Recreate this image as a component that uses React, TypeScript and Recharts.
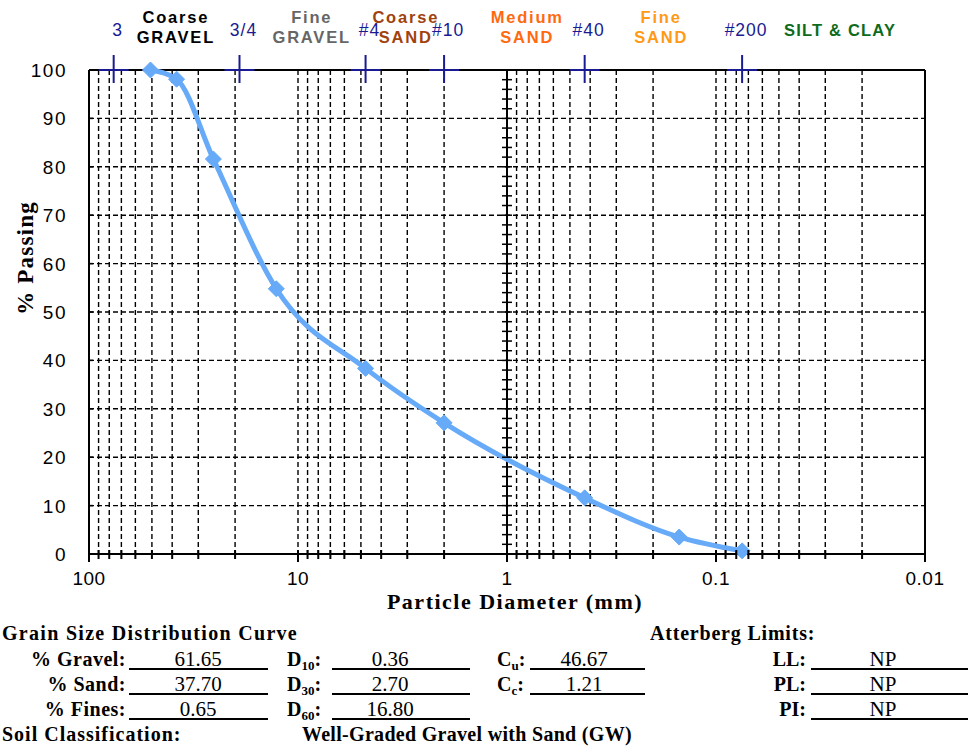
import React from 'react';
import { ComposedChart, Line, Scatter, XAxis, YAxis, CartesianGrid, ReferenceLine } from 'recharts';

// ---- data ----
const sieveSizes = [50.8, 38.1, 25.4, 12.7, 4.75, 2.0, 0.425, 0.15, 0.075];
const percentPassing = [100, 98.1, 81.6, 54.8, 38.35, 27.1, 11.6, 3.5, 0.65];

const sieveMarkSizes = [76.2, 19.05, 4.75, 2.0, 0.425, 0.075];
const sieveMarkLabels = ['3', '3/4', '#4', '#10', '#40', '#200'];

const zoneCenters = [38.4, 8.6, 3.05, 0.8, 0.183, 0.0255];
const zoneLine1 = ['Coarse', 'Fine', 'Coarse', 'Medium', 'Fine', ''];
const zoneLine2 = ['GRAVEL', 'GRAVEL', 'SAND', 'SAND', 'SAND', 'SILT & CLAY'];
const zoneColors = ['#000000', '#666666', '#A0420E', '#FF6A10', '#FF9A17', '#0E6B1C'];

const xTicks = [
  100, 90, 80, 70, 60, 50, 40, 30, 20,
  10, 9, 8, 7, 6, 5, 4, 3, 2,
  1, 0.9, 0.8, 0.7, 0.6, 0.5, 0.4, 0.3, 0.2,
  0.1, 0.09, 0.08, 0.07, 0.06, 0.05, 0.04, 0.03, 0.02,
  0.01,
];
const xMajorTicks = [100, 10, 1, 0.1, 0.01];
const xMajorLabels = ['100', '10', '1', '0.1', '0.01'];
const yTicks = [0, 10, 20, 30, 40, 50, 60, 70, 80, 90, 100];
const midAxisTicks = [
  0, 2, 4, 6, 8, 10, 12, 14, 16, 18, 20, 22, 24, 26, 28, 30, 32, 34, 36, 38, 40,
  42, 44, 46, 48, 50, 52, 54, 56, 58, 60, 62, 64, 66, 68, 70, 72, 74, 76, 78, 80,
  82, 84, 86, 88, 90, 92, 94, 96, 98, 100,
];

const curveData = sieveSizes.map((s, i) => ({ size: s, passing: percentPassing[i] }));
const sieveMarkData = sieveMarkSizes.map((s, i) => ({ size: s, passing: 100, label: sieveMarkLabels[i] }));
const zoneData = zoneCenters.map((s, i) => ({ size: s, passing: 100, l1: zoneLine1[i], l2: zoneLine2[i], color: zoneColors[i] }));
const midAxisData = midAxisTicks.map((v) => ({ size: 1, passing: v }));

const CURVE = '#66AAF8';
const NAVY = '#1A1A92';
const SANS = '"Liberation Sans", Arial, sans-serif';
const SERIF = '"Liberation Serif", "Times New Roman", serif';

const XTick = (props: any) => {
  const { x, y, payload } = props;
  const v = payload.value;
  const mi = xMajorTicks.indexOf(v);
  const major = mi >= 0;
  return (
    <g>
      <line x1={x} x2={x} y1={y - 4} y2={y + (major ? 8 : 5)} stroke="#000" strokeWidth={2} />
      {major && (
        <text x={x} y={y + 31} textAnchor="middle" fontFamily={SANS} fontSize={19} letterSpacing={0.5} fill="#000">
          {xMajorLabels[mi]}
        </text>
      )}
    </g>
  );
};

const YTick = (props: any) => {
  const { y, payload } = props;
  return (
    <g>
      <line x1={89} x2={93} y1={y} y2={y} stroke="#000" strokeWidth={1.5} />
      <text x={67} y={y + 7} textAnchor="end" fontFamily={SANS} fontSize={19} letterSpacing={1.5} fill="#000">
        {payload.value}
      </text>
    </g>
  );
};

const Diamond = (props: any) => {
  const { cx, cy } = props;
  if (cx == null || cy == null) return null;
  const r = 8;
  return <polygon points={`${cx},${cy - r} ${cx + r},${cy} ${cx},${cy + r} ${cx - r},${cy}`} fill={CURVE} stroke={CURVE} strokeWidth={1} />;
};

const SieveMark = (props: any) => {
  const { cx, cy, payload } = props;
  return (
    <g>
      <line x1={cx - 15} x2={cx + 15} y1={cy} y2={cy} stroke={NAVY} strokeWidth={2} />
      <line x1={cx} x2={cx} y1={cy - 15} y2={cy + 13} stroke={NAVY} strokeWidth={2} />
      <text x={cx + 4} y={cy - 34} textAnchor="middle" fontFamily={SANS} fontSize={17.5} letterSpacing={1} fill={NAVY}>
        {payload.label}
      </text>
    </g>
  );
};

const ZoneLabel = (props: any) => {
  const { cx, cy, payload } = props;
  if (!payload.l1) {
    return (
      <text x={cx} y={cy - 34} textAnchor="middle" fontFamily={SANS} fontWeight="bold" fontSize={16.5} letterSpacing={1.2} fill={payload.color}>
        {payload.l2}
      </text>
    );
  }
  return (
    <g>
      <text x={cx} y={cy - 47} textAnchor="middle" fontFamily={SANS} fontWeight="bold" fontSize={16.5} letterSpacing={1.8} fill={payload.color}>
        {payload.l1}
      </text>
      <text x={cx} y={cy - 27} textAnchor="middle" fontFamily={SANS} fontWeight="bold" fontSize={16.5} letterSpacing={1.8} fill={payload.color}>
        {payload.l2}
      </text>
    </g>
  );
};

const MidTick = (props: any) => {
  const { cx, cy } = props;
  return <line x1={cx - 5} x2={cx + 5} y1={cy} y2={cy} stroke="#000" strokeWidth={1.5} />;
};

// ---- HTML text helper ----
const T = ({ x, y, size = 20, bold = true, anchor = 'start', spacing = 0, children, color = '#000', family = SERIF }: any) => {
  const tx = anchor === 'middle' ? '-50%' : anchor === 'end' ? '-100%' : '0';
  return (
    <div
      style={{
        position: 'absolute',
        left: x,
        top: y - size / 2,
        lineHeight: `${size}px`,
        fontSize: size,
        fontFamily: family,
        fontWeight: bold ? 'bold' : 'normal',
        letterSpacing: spacing,
        color,
        whiteSpace: 'nowrap',
        transform: `translateX(${tx})`,
      }}
    >
      {children}
    </div>
  );
};

const U = ({ x1, x2, y }: any) => (
  <div style={{ position: 'absolute', left: x1, top: y - 1, width: x2 - x1, height: 0, borderTop: '2px solid #000' }} />
);

const Sub = ({ children }: any) => (
  <span style={{ fontSize: 13, position: 'relative', top: 4 }}>{children}</span>
);

const tableLabelsLeft = ['% Gravel:', '% Sand:', '% Fines:'];
const tableValuesLeft = ['61.65', '37.70', '0.65'];
const tableDSub = ['10', '30', '60'];
const tableDValues = ['0.36', '2.70', '16.80'];
const tableCSub = ['u', 'c'];
const tableCValues = ['46.67', '1.21'];
const tableAttLabels = ['LL:', 'PL:', 'PI:'];
const tableAttValues = ['NP', 'NP', 'NP'];
const rowCenters = [659, 684, 709];
const rowLines = [669, 694, 719];

export default function App() {
  return (
    <div style={{ position: 'relative', width: 968, height: 746, background: '#fff', overflow: 'hidden' }}>
      <style>{'body{margin:0;}'}</style>
      <ComposedChart width={968} height={746} data={curveData} margin={{ top: 70, right: 43, left: 29, bottom: 162 }}>
        <CartesianGrid stroke="#000" strokeWidth={1.4} strokeDasharray="5 3" />
        <XAxis
          dataKey="size"
          type="number"
          scale="log"
          domain={[0.01, 100]}
          allowDataOverflow
          reversed
          ticks={xTicks}
          interval={0}
          height={30}
          tickSize={0}
          tickMargin={0}
          tickLine={false}
          tick={<XTick />}
          axisLine={{ stroke: '#000', strokeWidth: 2 }}
        />
        <YAxis
          dataKey="passing"
          type="number"
          domain={[0, 100]}
          ticks={yTicks}
          interval={0}
          width={60}
          tickSize={0}
          tickMargin={0}
          tickLine={false}
          tick={<YTick />}
          axisLine={{ stroke: '#000', strokeWidth: 2 }}
        />
        <ReferenceLine y={100} stroke="#000" strokeWidth={2} />
        <ReferenceLine x={0.01} stroke="#000" strokeWidth={2} />
        <ReferenceLine x={1} stroke="#000" strokeWidth={2} />
        <Scatter data={midAxisData} dataKey="passing" shape={<MidTick />} isAnimationActive={false} />
        <Scatter data={sieveMarkData} dataKey="passing" shape={<SieveMark />} isAnimationActive={false} />
        <Scatter data={zoneData} dataKey="passing" shape={<ZoneLabel />} isAnimationActive={false} />
        <Line
          dataKey="passing"
          type="monotone"
          stroke={CURVE}
          strokeWidth={5}
          dot={<Diamond />}
          activeDot={false}
          isAnimationActive={false}
        />
      </ComposedChart>

      {/* axis titles */}
      <T x={515} y={602} size={22} anchor="middle" spacing={1.5}>Particle Diameter (mm)</T>
      <div
        style={{
          position: 'absolute',
          left: 25,
          top: 258,
          transform: 'translate(-50%, -50%) rotate(-90deg)',
          fontFamily: SERIF,
          fontWeight: 'bold',
          fontSize: 23,
          lineHeight: '23px',
          letterSpacing: 1.2,
          whiteSpace: 'nowrap',
        }}
      >
        % Passing
      </div>

      {/* summary table */}
      <T x={2} y={633} size={20} spacing={1.3}>Grain Size Distribution Curve</T>
      <T x={650} y={633} size={20} spacing={0.8}>Atterberg Limits:</T>
      {rowCenters.map((cy, i) => (
        <React.Fragment key={i}>
          <T x={126} y={cy} size={20} anchor="end" spacing={0.5}>{tableLabelsLeft[i]}</T>
          <U x1={129} x2={268} y={rowLines[i]} />
          <T x={198} y={cy} size={21} bold={false} anchor="middle">{tableValuesLeft[i]}</T>

          <T x={287} y={cy} size={20}>D<Sub>{tableDSub[i]}</Sub>:</T>
          <U x1={332} x2={470} y={rowLines[i]} />
          <T x={390} y={cy} size={21} bold={false} anchor="middle">{tableDValues[i]}</T>

          {i < 2 && (
            <>
              <T x={497} y={cy} size={20}>C<Sub>{tableCSub[i]}</Sub>:</T>
              <U x1={530} x2={645} y={rowLines[i]} />
              <T x={584} y={cy} size={21} bold={false} anchor="middle">{tableCValues[i]}</T>
            </>
          )}

          <T x={806} y={cy} size={20} anchor="end">{tableAttLabels[i]}</T>
          <U x1={811} x2={968} y={rowLines[i]} />
          <T x={883} y={cy} size={21} bold={false} anchor="middle">{tableAttValues[i]}</T>
        </React.Fragment>
      ))}
      <T x={2} y={734} size={20} spacing={1}>Soil Classification:</T>
      <T x={302} y={734} size={20} spacing={0.3}>Well-Graded Gravel with Sand (GW)</T>
    </div>
  );
}
